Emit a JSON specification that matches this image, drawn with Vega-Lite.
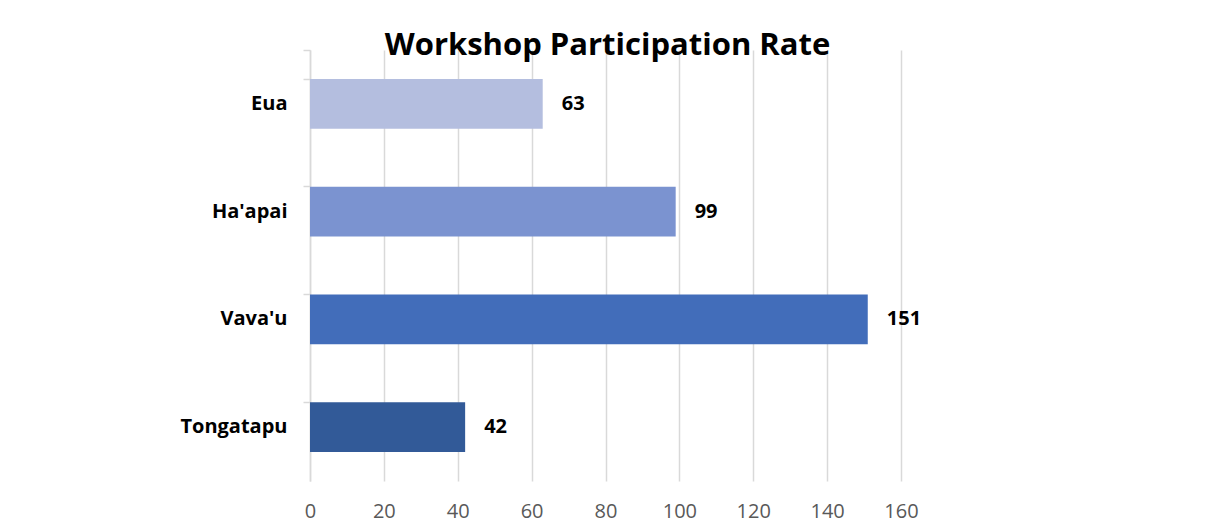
{
  "$schema": "https://vega.github.io/schema/vega-lite/v6.json",
  "width": 591,
  "height": 431,
  "autosize": {"type": "none"},
  "padding": {"left": 310, "top": 50, "right": 307, "bottom": 45},
  "background": "white",
  "title": {
    "text": "Workshop Participation Rate",
    "font": "Open Sans",
    "fontSize": 31,
    "fontWeight": "bold",
    "color": "#000000",
    "anchor": "middle",
    "baseline": "alphabetic",
    "offset": -46,
    "dx": 2
  },
  "data": {
    "values": [
      {"Region": "Eua", "Participants": 63},
      {"Region": "Ha'apai", "Participants": 99},
      {"Region": "Vava'u", "Participants": 151},
      {"Region": "Tongatapu", "Participants": 42}
    ]
  },
  "config": {
    "view": {"stroke": null},
    "font": "Open Sans"
  },
  "encoding": {
    "y": {
      "field": "Region",
      "type": "nominal",
      "sort": ["Eua", "Ha'apai", "Vava'u", "Tongatapu"],
      "scale": {"paddingInner": 0.54, "paddingOuter": 0.27},
      "axis": {
        "title": null,
        "bandPosition": 0,
        "tickExtra": true,
        "tickSize": 7,
        "tickColor": "#d9d9d9",
        "tickWidth": 1.5,
        "domainColor": "#d9d9d9",
        "domainWidth": 1.5,
        "labelFont": "Open Sans",
        "labelFontSize": 20,
        "labelFontWeight": "bold",
        "labelColor": "#000000",
        "labelPadding": 16,
        "grid": false
      }
    },
    "x": {
      "field": "Participants",
      "type": "quantitative",
      "scale": {"domain": [0, 160], "nice": false},
      "axis": {
        "title": null,
        "values": [0, 20, 40, 60, 80, 100, 120, 140, 160],
        "grid": true,
        "gridColor": "#d9d9d9",
        "gridWidth": 1.5,
        "domain": false,
        "ticks": false,
        "labelFlush": false,
        "labelFont": "Open Sans",
        "labelFontSize": 20,
        "labelColor": "#595959",
        "labelPadding": 20
      }
    }
  },
  "layer": [
    {
      "mark": {"type": "bar"},
      "encoding": {
        "color": {
          "field": "Region",
          "type": "nominal",
          "scale": {
            "domain": ["Eua", "Ha'apai", "Vava'u", "Tongatapu"],
            "range": ["#b4bedf", "#7b93d0", "#426dba", "#325a98"]
          },
          "legend": null
        }
      }
    },
    {
      "mark": {
        "type": "text",
        "align": "left",
        "baseline": "middle",
        "dx": 19,
        "font": "Open Sans",
        "fontSize": 20,
        "fontWeight": "bold",
        "color": "#000000"
      },
      "encoding": {
        "text": {"field": "Participants", "type": "quantitative"}
      }
    }
  ]
}
